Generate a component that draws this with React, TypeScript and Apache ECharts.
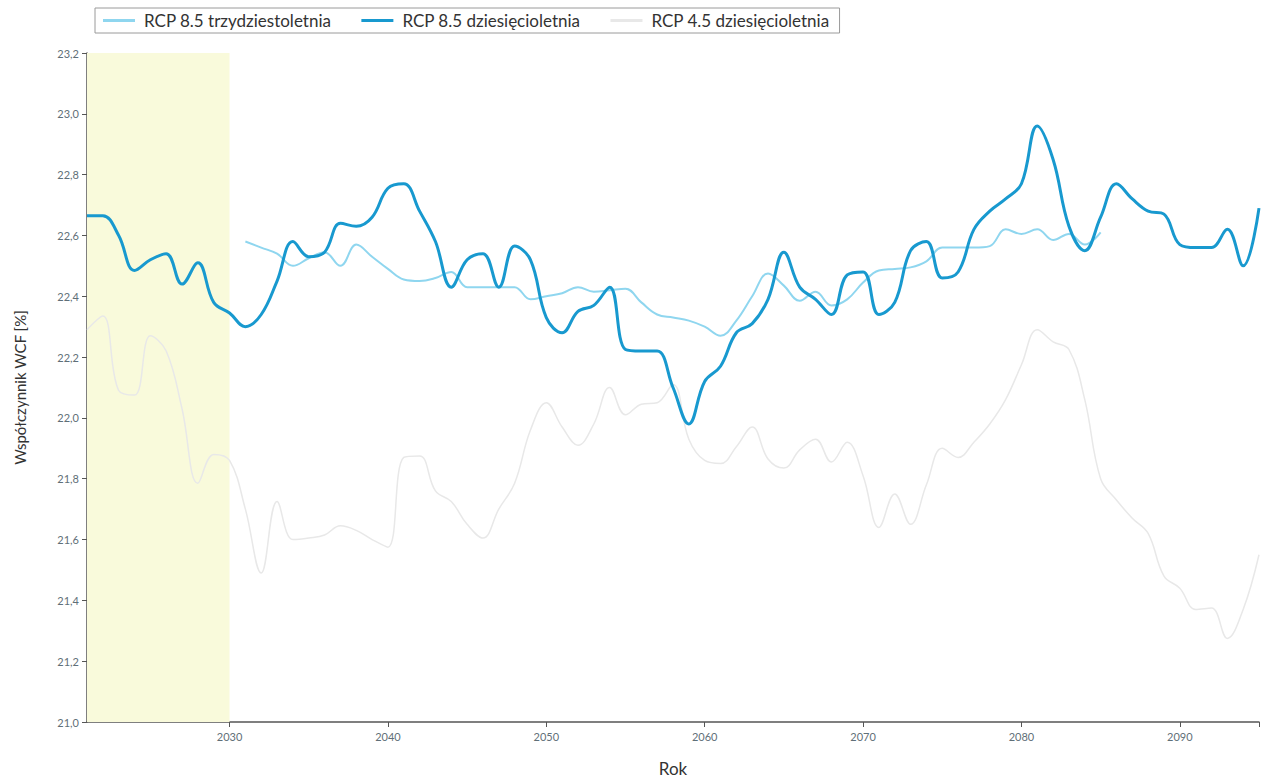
import React, { useEffect, useRef } from "react";
import * as echarts from "echarts";

// Years for the decadal series (2021–2095)
const yearsDecadal: number[] = Array.from({ length: 75 }, (_, i) => 2021 + i);
// Years for the 30-year series (2031–2085)
const yearsThirty: number[] = Array.from({ length: 55 }, (_, i) => 2031 + i);

const rcp85Decadal: number[] = [
  22.665, 22.665, 22.6, 22.485, 22.52, 22.54, 22.44, 22.51, 22.38, 22.345,
  22.3, 22.34, 22.45, 22.58, 22.53, 22.545, 22.64, 22.63, 22.66, 22.755,
  22.77, 22.68, 22.58, 22.43, 22.52, 22.54, 22.43, 22.565, 22.52, 22.33,
  22.28, 22.35, 22.37, 22.43, 22.225, 22.22, 22.22, 22.1, 21.98, 22.12,
  22.17, 22.28, 22.31, 22.39, 22.545, 22.43, 22.39, 22.34, 22.47, 22.48,
  22.34, 22.38, 22.55, 22.58, 22.46, 22.48, 22.62, 22.68, 22.72, 22.77,
  22.96, 22.85, 22.63, 22.55, 22.66, 22.77, 22.72, 22.68, 22.67, 22.57,
  22.56, 22.56, 22.62, 22.5, 22.69,
];

const rcp85Thirty: number[] = [
  22.58, 22.56, 22.54, 22.5, 22.525, 22.545, 22.5, 22.57, 22.53, 22.49,
  22.455, 22.45, 22.46, 22.48, 22.43, 22.43, 22.43, 22.43, 22.39, 22.4,
  22.41, 22.43, 22.415, 22.42, 22.425, 22.38, 22.34, 22.33, 22.32, 22.3,
  22.27, 22.32, 22.4, 22.475, 22.435, 22.385, 22.415, 22.37, 22.39, 22.445,
  22.485, 22.49, 22.495, 22.515, 22.56, 22.56, 22.56, 22.565, 22.62, 22.605,
  22.62, 22.585, 22.605, 22.57, 22.61,
];

const rcp45Decadal: number[] = [
  22.29, 22.335, 22.09, 22.075, 22.27, 22.22, 22.03, 21.785, 21.88, 21.86,
  21.7, 21.49, 21.725, 21.6, 21.605, 21.615, 21.645, 21.63, 21.6, 21.575,
  21.87, 21.875, 21.76, 21.725, 21.65, 21.605, 21.7, 21.785, 21.96, 22.05,
  21.97, 21.91, 21.98, 22.1, 22.01, 22.045, 22.05, 22.11, 21.93, 21.86,
  21.85, 21.905, 21.97, 21.865, 21.835, 21.895, 21.93, 21.855, 21.92, 21.81,
  21.64, 21.75, 21.65, 21.78, 21.9, 21.87, 21.92, 21.98, 22.06, 22.175,
  22.29, 22.25, 22.225, 22.06, 21.8, 21.73, 21.67, 21.62, 21.48, 21.44,
  21.37, 21.375, 21.275, 21.37, 21.55,
];

const xTickValues: number[] = [2030, 2040, 2050, 2060, 2070, 2080, 2090];
const seriesNames: string[] = [
  "RCP 8.5 trzydziestoletnia",
  "RCP 8.5 dziesięcioletnia",
  "RCP 4.5 dziesięcioletnia",
];
const referencePeriod: number[] = [2021, 2030];

const pairs = (xs: number[], ys: number[]) => xs.map((x, i) => [x, ys[i]]);

export default function App() {
  const ref = useRef<HTMLDivElement>(null);

  useEffect(() => {
    if (!ref.current) return;
    const chart = echarts.init(ref.current, null, { renderer: "svg" });
    const font = "Lato, 'Open Sans', sans-serif";
    chart.setOption({
      animation: false,
      backgroundColor: "#ffffff",
      textStyle: { fontFamily: font },
      legend: {
        left: 95,
        top: 8,
        padding: [4, 10, 4, 8],
        itemGap: 30,
        itemWidth: 32,
        itemHeight: 3,
        icon: "rect",
        borderColor: "#9a9a9a",
        borderWidth: 1,
        borderRadius: 0,
        textStyle: { fontSize: 17, color: "#333", fontFamily: font, padding: [0, 0, 0, 4] },
        data: seriesNames,
      },
      grid: { left: 87, right: 10, top: 53, bottom: 54 },
      xAxis: {
        type: "value",
        min: 2021,
        max: 2095,
        name: "Rok",
        nameLocation: "middle",
        nameGap: 38,
        nameTextStyle: { fontSize: 17, color: "#333", fontFamily: font },
        axisLine: { show: true, lineStyle: { color: "#555", width: 1.5 } },
        axisTick: {
          show: true,
          length: 5,
          inside: false,
          customValues: [...xTickValues, 2095],
          lineStyle: { color: "#555" },
        },
        axisLabel: {
          customValues: xTickValues,
          fontSize: 11,
          color: "#5f6f78",
          margin: 9,
          formatter: (v: number) => String(v),
        },
        splitLine: { show: false },
      },
      yAxis: {
        type: "value",
        min: 21.0,
        max: 23.2,
        interval: 0.2,
        name: "Współczynnik WCF [%]",
        nameLocation: "middle",
        nameGap: 60,
        nameRotate: 90,
        nameTextStyle: { fontSize: 15, color: "#333", fontFamily: font },
        axisLine: { show: true, lineStyle: { color: "#555", width: 1.5 } },
        axisTick: { show: true, length: 5, lineStyle: { color: "#555" } },
        axisLabel: {
          fontSize: 11,
          color: "#5f6f78",
          margin: 8,
          formatter: (v: number) => v.toFixed(1).replace(".", ","),
        },
        splitLine: { show: false },
      },
      series: [
        {
          name: seriesNames[2],
          type: "line",
          data: pairs(yearsDecadal, rcp45Decadal),
          smooth: 0.4,
          showSymbol: false,
          symbol: "none",
          z: 2,
          itemStyle: { color: "#e8e8e8" },
          lineStyle: { color: "#e8e8e8", width: 1.5 },
          markArea: {
            silent: true,
            itemStyle: { color: "#f9fadb" },
            data: [[{ xAxis: referencePeriod[0] }, { xAxis: referencePeriod[1] }]],
          },
        },
        {
          name: seriesNames[0],
          type: "line",
          data: pairs(yearsThirty, rcp85Thirty),
          smooth: 0.4,
          showSymbol: false,
          symbol: "none",
          z: 3,
          itemStyle: { color: "#8fd6ef" },
          lineStyle: { color: "#8fd6ef", width: 2 },
        },
        {
          name: seriesNames[1],
          type: "line",
          data: pairs(yearsDecadal, rcp85Decadal),
          smooth: 0.4,
          showSymbol: false,
          symbol: "none",
          z: 4,
          itemStyle: { color: "#1899cf" },
          lineStyle: { color: "#1899cf", width: 3 },
        },
      ],
    });
    return () => chart.dispose();
  }, []);

  return (
    <div
      ref={ref}
      style={{ position: "fixed", left: 0, top: 0, width: 1269, height: 782 }}
    />
  );
}
